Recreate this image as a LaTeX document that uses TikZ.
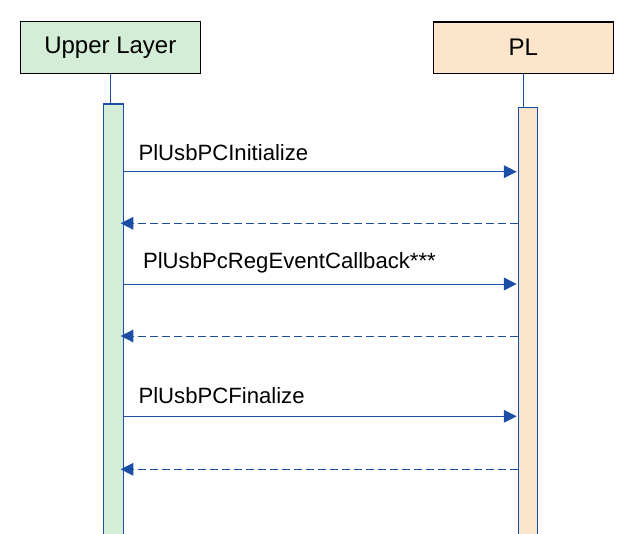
\documentclass[tikz,border=0pt]{standalone}
\usepackage{fontspec}
\setmainfont{Liberation Sans}
\usetikzlibrary{arrows.meta}
\definecolor{lineblue}{RGB}{28,78,166}
\definecolor{upgreen}{RGB}{211,237,214}
\definecolor{plpeach}{RGB}{253,229,204}
\tikzset{partbox/.style={rectangle, draw=black, line width=1pt, inner sep=0pt, minimum width=135pt, minimum height=38.6pt, font=\fontsize{18}{22}\selectfont}}
\tikzset{actbar/.style={rectangle, draw=lineblue, line width=1.1pt, inner sep=0pt, anchor=north}}
\tikzset{lifeline/.style={draw=lineblue, line width=0.75pt}}
\tikzset{call/.style={draw=lineblue, line width=0.75pt, -{Triangle[length=9.5pt, width=9.5pt]}, shorten >=1pt}}
\tikzset{reply/.style={call, dash pattern=on 6pt off 3pt, shorten >=-2.5pt}}
\tikzset{msglabel/.style={inner sep=0pt, anchor=base west, font=\fontsize{16.6}{20}\selectfont}}

\begin{document}
\begin{tikzpicture}[x=0.75pt, y=-0.75pt]
    \useasboundingbox (0,0) rectangle (636,533);
    \clip (0,0) rectangle (636,533);

    \node[partbox, fill=upgreen]    (upper)     at (110.3,47.5)     {Upper Layer};
    \node[partbox, fill=plpeach]    (pl)        at (523.3,47.7)     {PL};

    \node[actbar, fill=upgreen, minimum width=15pt, minimum height=330pt]   (ulbar)   at (113.3,103.3)  {};
    \node[actbar, fill=plpeach, minimum width=14pt, minimum height=330pt]   (plbar)   at (528,106.7)    {};

    \draw[lifeline] (upper.south) -- (upper.south |- ulbar.north);
    \draw[lifeline] (pl.south) -- (pl.south |- plbar.north);

    % calls and their returns
    \foreach \i/\y/\r/\ly/\lx/\txt in {1/171.7/223.3/160/138.3/PlUsbPCInitialize,
                                      2/284/336/268.7/142.8/PlUsbPcRegEventCallback***,
                                      3/416.3/469.3/403/138.3/PlUsbPCFinalize}{
        \node[msglabel] (label\i) at (\lx,\ly) {\txt};
        \draw[call]  (ulbar.east |- 0,\y) -- (plbar.west |- 0,\y);
        \draw[reply] (plbar.west |- 0,\r) -- (ulbar.east |- 0,\r);
    }
\end{tikzpicture}
\end{document}
